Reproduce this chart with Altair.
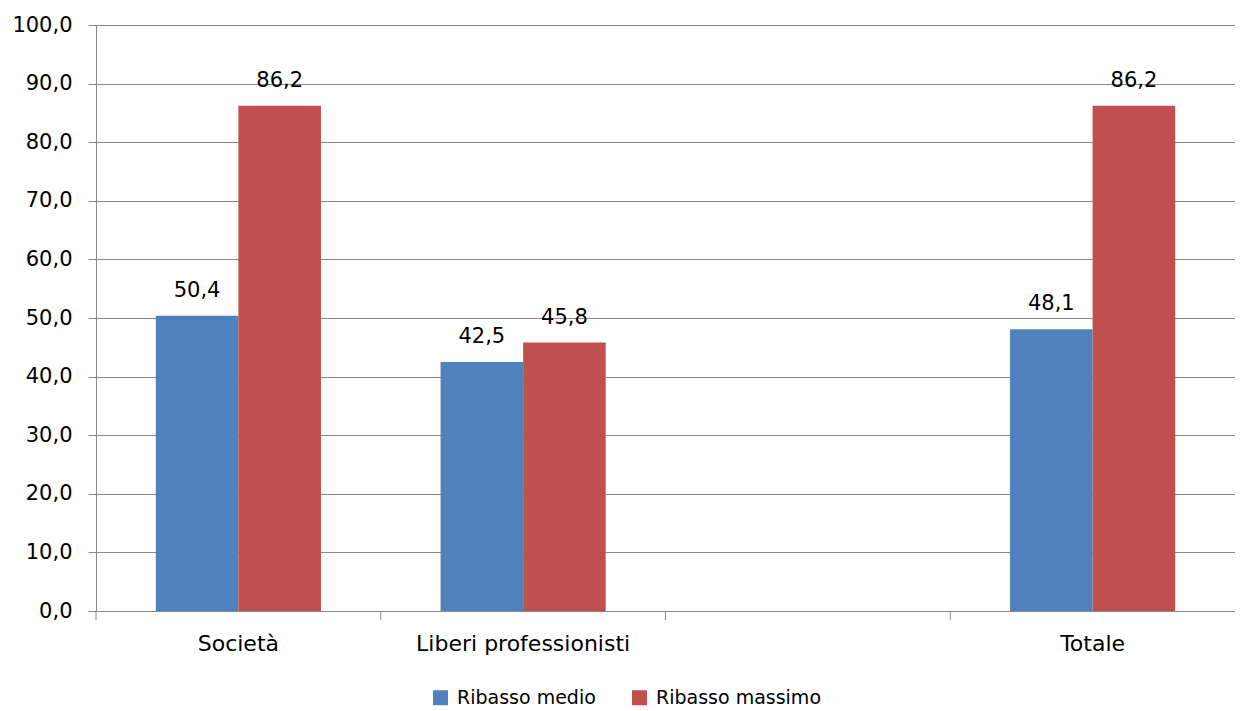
import altair as alt
import pandas as pd

categories = ["Società", "Liberi professionisti", " ", "Totale"]
series = ["Ribasso medio", "Ribasso massimo"]
ribasso_medio = [50.4, 42.5, None, 48.1]
ribasso_massimo = [86.2, 45.8, None, 86.2]
colors = ["#4F81BD", "#C0504D"]
y_ticks = [0, 10, 20, 30, 40, 50, 60, 70, 80, 90, 100]

rows = []
for cat, med, mx in zip(categories, ribasso_medio, ribasso_massimo):
    if med is not None:
        rows.append({"cat": cat, "series": series[0], "value": med})
    if mx is not None:
        rows.append({"cat": cat, "series": series[1], "value": mx})
df = pd.DataFrame(rows)
df["label"] = df["value"].map(lambda v: f"{v:.1f}".replace(".", ","))
ticks_df = pd.DataFrame({"cat": categories})

FONT = "DejaVu Sans"
GRID = "#898989"
W, H = 1139, 586
P_IN, P_OUT = 0.42, 0.21
STEP = W / (len(categories) - P_IN + 2 * P_OUT)

xscale = alt.Scale(domain=categories, paddingInner=P_IN, paddingOuter=P_OUT)

bars = alt.Chart(df).mark_bar().encode(
    x=alt.X("cat:N", scale=xscale, sort=categories, title=None,
            axis=alt.Axis(labelAngle=0, ticks=False, domain=True, domainColor=GRID,
                          labelFontSize=22, labelFont=FONT, labelColor="#000000",
                          labelPadding=22, labelLimit=400, grid=False)),
    xOffset=alt.XOffset("series:N", sort=series, scale=alt.Scale(domain=series, paddingInner=0)),
    y=alt.Y("value:Q", scale=alt.Scale(domain=[0, 100], nice=False), title=None,
            axis=alt.Axis(values=y_ticks,
                          labelExpr="replace(format(datum.value, '.1f'), '.', ',')",
                          grid=True, gridColor=GRID, gridWidth=1,
                          domainColor=GRID, tickColor=GRID, tickSize=8,
                          labelFontSize=21, labelFont=FONT, labelColor="#000000",
                          labelPadding=16)),
    color=alt.Color("series:N", sort=series,
                    scale=alt.Scale(domain=series, range=colors),
                    legend=alt.Legend(title=None, orient="none", direction="horizontal",
                                      legendX=335, legendY=663,
                                      symbolType="square", symbolSize=225,
                                      symbolStrokeWidth=0, labelOffset=7,
                                      columnPadding=34, labelLimit=400,
                                      labelFontSize=19, labelFont=FONT,
                                      labelColor="#000000")),
)

texts = alt.Chart(df).mark_text(baseline="middle", dy=-25, fontSize=21, font=FONT,
                                color="#000000").encode(
    x=alt.X("cat:N", scale=xscale, sort=categories),
    xOffset=alt.XOffset("series:N", sort=series, scale=alt.Scale(domain=series, paddingInner=0)),
    y=alt.Y("value:Q"),
    text="label:N",
)

ticks = alt.Chart(ticks_df).mark_rule(color=GRID, strokeWidth=1,
                                      xOffset=-(P_IN / 2) * STEP).encode(
    x=alt.X("cat:N", bandPosition=0, scale=xscale, sort=categories),
    y=alt.value(H),
    y2=alt.value(H + 9),
)

chart = alt.layer(bars, texts, ticks).properties(
    width=W, height=H,
    autosize=alt.AutoSizeParams(type="none"),
    padding={"left": 88, "top": 17, "right": 0, "bottom": 100},
    background="#ffffff",
).configure_view(strokeOpacity=0)

chart.save("out.html", embed_options={"renderer": "svg", "actions": False})
